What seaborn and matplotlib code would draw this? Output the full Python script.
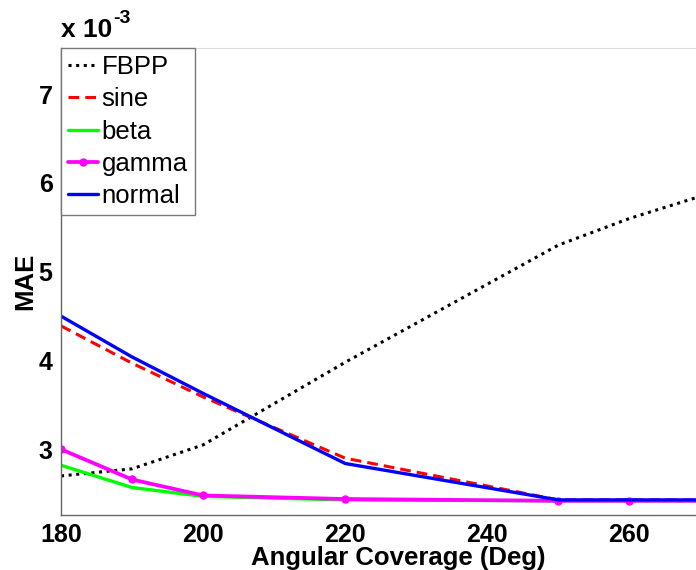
import pandas as pd
import seaborn as sns
import matplotlib.pyplot as plt
from matplotlib.ticker import FuncFormatter

# angular coverage (deg) and MAE values
coverage = [180, 190, 200, 220, 250, 260, 270]
mae_fbpp = [2.70e-3, 2.78e-3, 3.05e-3, 3.98e-3, 5.30e-3, 5.60e-3, 5.85e-3]
mae_sine = [4.39e-3, 3.97e-3, 3.59e-3, 2.90e-3, 2.43e-3, 2.43e-3, 2.43e-3]
mae_beta = [2.82e-3, 2.57e-3, 2.47e-3, 2.43e-3, 2.42e-3, 2.42e-3, 2.42e-3]
mae_gamma = [3.00e-3, 2.66e-3, 2.48e-3, 2.44e-3, 2.42e-3, 2.42e-3, 2.42e-3]
mae_normal = [4.50e-3, 4.04e-3, 3.63e-3, 2.84e-3, 2.43e-3, 2.43e-3, 2.43e-3]

series = ['FBPP', 'sine', 'beta', 'gamma', 'normal']
values = [mae_fbpp, mae_sine, mae_beta, mae_gamma, mae_normal]

df = pd.DataFrame({
    'coverage': coverage * len(series),
    'mae': [v for vals in values for v in vals],
    'method': [s for s in series for _ in coverage],
})

sns.set_style('white')
plt.rcParams['font.family'] = ['Liberation Sans', 'DejaVu Sans']
plt.rcParams['text.color'] = 'black'
plt.rcParams['axes.labelcolor'] = 'black'
plt.rcParams['xtick.labelcolor'] = 'black'
plt.rcParams['ytick.labelcolor'] = 'black'

fig = plt.figure(figsize=(6.96, 5.70), dpi=100)
ax = fig.add_axes([61 / 696, 1 - 515 / 570, 675 / 696, 467 / 570])

styles = {
    'FBPP': dict(color='black', dashes=(1, 1.5), lw=2.2, marker=None),
    'sine': dict(color='#ff0000', dashes=(3.5, 2), lw=2.2, marker=None),
    'beta': dict(color='#00ff00', dashes=None, lw=2.4, marker=None),
    'gamma': dict(color='#ff00ff', dashes=None, lw=2.7, marker='o'),
    'normal': dict(color='#0000ff', dashes=None, lw=2.4, marker=None),
}

for name in series:
    st = styles[name]
    sub = df[df['method'] == name]
    sns.lineplot(data=sub, x='coverage', y='mae', ax=ax, color=st['color'],
                 linewidth=st['lw'], label=name, marker=st['marker'],
                 markersize=6, markeredgewidth=0)
    line = ax.get_lines()[-1]
    if st['dashes'] is not None:
        line.set_dashes(st['dashes'])
        line.set_dash_capstyle('butt')

ax.set_xlim(180, 275)
ax.set_ylim(2.26e-3, 7.52e-3)
ax.set_xticks([180, 200, 220, 240, 260])
ax.set_yticks([3e-3, 4e-3, 5e-3, 6e-3, 7e-3])
ax.yaxis.set_major_formatter(FuncFormatter(lambda v, p: f'{v * 1e3:.0f}'))
ax.tick_params(direction='in', length=5, width=0.8, color='#666666',
               labelsize=18, pad=6)
for lab in ax.get_xticklabels() + ax.get_yticklabels():
    lab.set_fontweight('bold')

for side in ['left', 'bottom']:
    ax.spines[side].set_color('#666666')
    ax.spines[side].set_linewidth(1)
ax.spines['top'].set_color('#dddddd')
ax.spines['right'].set_visible(False)

ax.set_xlabel('Angular Coverage (Deg)', fontsize=18.5, fontweight='bold', labelpad=-1)
ax.set_ylabel('MAE', fontsize=18.5, fontweight='bold', labelpad=1)

# exponent label, matlab style
base = ax.text(0.0, 1.012, 'x 10', transform=ax.transAxes, fontsize=19,
               fontweight='bold', ha='left', va='bottom')
ax.annotate('-3', xy=(1, 1), xycoords=base, xytext=(1, -6),
            textcoords='offset points', fontsize=14, fontweight='bold',
            ha='left', va='bottom')

leg = ax.legend(loc='upper left', borderaxespad=0, fontsize=18.5, frameon=True,
                fancybox=False, framealpha=1, edgecolor='#777777',
                handlelength=1.15, handletextpad=0.15, labelspacing=0.32,
                borderpad=0.28)
leg.get_frame().set_linewidth(1)

fig.savefig('out.png', dpi=100)
